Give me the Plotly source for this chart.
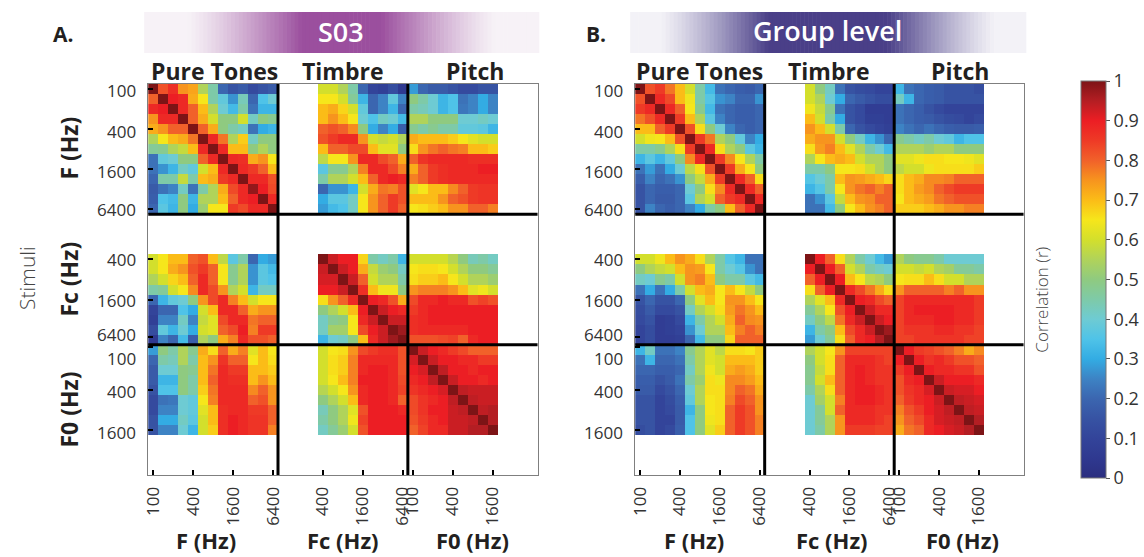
import plotly.graph_objects as go

# ---------------- data (correlation r) ----------------
# Panel A: S03 ; blocks: PT = pure tones F (13), FC = timbre Fc (9), F0 = pitch F0 (9)
A_PT_PT = [
    [1.00, 0.82, 0.87, 0.75, 0.73, 0.55, 0.45, 0.20, 0.15, 0.17, 0.12, 0.15, 0.17],
    [0.80, 1.00, 0.90, 0.88, 0.72, 0.65, 0.45, 0.38, 0.27, 0.43, 0.20, 0.35, 0.40],
    [0.88, 0.90, 1.00, 0.88, 0.80, 0.70, 0.55, 0.40, 0.33, 0.45, 0.22, 0.32, 0.32],
    [0.75, 0.88, 0.88, 1.00, 0.80, 0.72, 0.60, 0.50, 0.50, 0.60, 0.42, 0.50, 0.48],
    [0.72, 0.75, 0.80, 0.80, 1.00, 0.80, 0.72, 0.50, 0.45, 0.42, 0.22, 0.30, 0.32],
    [0.55, 0.65, 0.70, 0.72, 0.78, 1.00, 0.88, 0.78, 0.55, 0.68, 0.42, 0.50, 0.50],
    [0.47, 0.48, 0.55, 0.58, 0.70, 0.88, 1.00, 0.88, 0.70, 0.70, 0.50, 0.55, 0.50],
    [0.22, 0.38, 0.40, 0.50, 0.50, 0.80, 0.88, 1.00, 0.88, 0.87, 0.72, 0.75, 0.65],
    [0.22, 0.27, 0.32, 0.42, 0.38, 0.60, 0.70, 0.88, 1.00, 0.88, 0.85, 0.80, 0.70],
    [0.20, 0.45, 0.45, 0.58, 0.45, 0.70, 0.72, 0.85, 0.88, 1.00, 0.88, 0.88, 0.82],
    [0.17, 0.22, 0.25, 0.42, 0.22, 0.45, 0.55, 0.72, 0.83, 0.88, 0.98, 0.90, 0.83],
    [0.18, 0.35, 0.33, 0.50, 0.32, 0.55, 0.55, 0.70, 0.80, 0.88, 0.90, 1.00, 0.88],
    [0.20, 0.37, 0.32, 0.50, 0.30, 0.52, 0.65, 0.65, 0.85, 0.83, 0.88, 0.88, 1.00],
]
A_PT_FC = [
    [0.60, 0.60, 0.55, 0.45, 0.20, 0.10, 0.08, 0.13, 0.05],
    [0.65, 0.65, 0.60, 0.47, 0.32, 0.20, 0.25, 0.38, 0.25],
    [0.70, 0.72, 0.67, 0.60, 0.38, 0.20, 0.25, 0.32, 0.20],
    [0.70, 0.75, 0.70, 0.65, 0.40, 0.35, 0.42, 0.40, 0.33],
    [0.80, 0.82, 0.80, 0.76, 0.50, 0.30, 0.25, 0.30, 0.18],
    [0.82, 0.85, 0.88, 0.88, 0.75, 0.60, 0.58, 0.60, 0.55],
    [0.70, 0.80, 0.80, 0.83, 0.83, 0.70, 0.62, 0.62, 0.50],
    [0.57, 0.65, 0.65, 0.75, 0.88, 0.88, 0.83, 0.80, 0.72],
    [0.37, 0.48, 0.48, 0.55, 0.77, 0.88, 0.88, 0.83, 0.77],
    [0.45, 0.55, 0.55, 0.60, 0.70, 0.80, 0.88, 0.90, 0.88],
    [0.20, 0.27, 0.27, 0.32, 0.60, 0.72, 0.78, 0.77, 0.82],
    [0.30, 0.37, 0.37, 0.42, 0.65, 0.75, 0.80, 0.85, 0.82],
    [0.28, 0.33, 0.35, 0.42, 0.65, 0.75, 0.80, 0.85, 0.80],
]
A_PT_F0 = [
    [0.28, 0.20, 0.17, 0.17, 0.15, 0.12, 0.12, 0.15, 0.15],
    [0.50, 0.45, 0.40, 0.32, 0.35, 0.22, 0.25, 0.30, 0.25],
    [0.45, 0.43, 0.40, 0.32, 0.35, 0.23, 0.25, 0.30, 0.25],
    [0.55, 0.55, 0.50, 0.50, 0.50, 0.40, 0.40, 0.42, 0.40],
    [0.48, 0.45, 0.48, 0.45, 0.45, 0.38, 0.38, 0.37, 0.32],
    [0.72, 0.70, 0.70, 0.70, 0.68, 0.65, 0.62, 0.60, 0.60],
    [0.66, 0.75, 0.78, 0.80, 0.78, 0.77, 0.70, 0.70, 0.68],
    [0.80, 0.86, 0.88, 0.88, 0.88, 0.88, 0.87, 0.87, 0.87],
    [0.72, 0.80, 0.85, 0.87, 0.88, 0.88, 0.88, 0.90, 0.90],
    [0.77, 0.80, 0.85, 0.87, 0.88, 0.88, 0.88, 0.88, 0.88],
    [0.62, 0.65, 0.70, 0.70, 0.76, 0.80, 0.85, 0.86, 0.86],
    [0.70, 0.70, 0.70, 0.75, 0.80, 0.82, 0.85, 0.86, 0.86],
    [0.65, 0.66, 0.68, 0.70, 0.75, 0.75, 0.80, 0.80, 0.77],
]
A_FC_FC = [
    [1.00, 0.93, 0.90, 0.90, 0.67, 0.45, 0.42, 0.45, 0.32],
    [0.93, 1.00, 0.93, 0.90, 0.72, 0.58, 0.52, 0.50, 0.42],
    [0.92, 0.92, 1.00, 0.93, 0.80, 0.60, 0.55, 0.55, 0.45],
    [0.90, 0.90, 0.93, 1.00, 0.87, 0.70, 0.64, 0.64, 0.50],
    [0.66, 0.75, 0.80, 0.88, 1.00, 0.90, 0.88, 0.82, 0.72],
    [0.50, 0.55, 0.60, 0.70, 0.90, 1.00, 0.93, 0.90, 0.88],
    [0.42, 0.48, 0.50, 0.65, 0.88, 0.93, 1.00, 0.93, 0.93],
    [0.42, 0.53, 0.53, 0.65, 0.83, 0.90, 0.93, 1.00, 0.97],
    [0.32, 0.40, 0.42, 0.50, 0.70, 0.88, 0.93, 0.97, 1.00],
]
A_FC_F0 = [
    [0.60, 0.60, 0.60, 0.60, 0.56, 0.50, 0.43, 0.45, 0.42],
    [0.65, 0.66, 0.66, 0.65, 0.60, 0.55, 0.50, 0.50, 0.47],
    [0.66, 0.68, 0.68, 0.70, 0.65, 0.60, 0.55, 0.55, 0.52],
    [0.75, 0.77, 0.77, 0.77, 0.75, 0.70, 0.62, 0.64, 0.60],
    [0.83, 0.88, 0.88, 0.90, 0.88, 0.88, 0.82, 0.84, 0.82],
    [0.85, 0.88, 0.90, 0.90, 0.90, 0.90, 0.90, 0.90, 0.90],
    [0.87, 0.88, 0.90, 0.90, 0.90, 0.90, 0.90, 0.90, 0.90],
    [0.87, 0.88, 0.88, 0.88, 0.88, 0.88, 0.90, 0.90, 0.90],
    [0.82, 0.82, 0.82, 0.83, 0.84, 0.80, 0.88, 0.90, 0.90],
]
A_F0_F0 = [
    [1.00, 0.93, 0.90, 0.88, 0.85, 0.83, 0.80, 0.80, 0.80],
    [0.92, 1.00, 0.93, 0.90, 0.90, 0.88, 0.88, 0.85, 0.85],
    [0.90, 0.92, 1.00, 0.94, 0.90, 0.90, 0.88, 0.90, 0.90],
    [0.88, 0.90, 0.94, 1.00, 0.93, 0.90, 0.90, 0.88, 0.90],
    [0.86, 0.88, 0.90, 0.92, 1.00, 0.94, 0.93, 0.93, 0.93],
    [0.83, 0.86, 0.88, 0.90, 0.94, 1.00, 0.94, 0.93, 0.93],
    [0.83, 0.86, 0.90, 0.90, 0.93, 0.94, 1.00, 0.94, 0.95],
    [0.82, 0.85, 0.88, 0.90, 0.93, 0.93, 0.94, 1.00, 0.95],
    [0.80, 0.84, 0.88, 0.88, 0.93, 0.93, 0.95, 0.95, 1.00],
]

# Panel B: group level
B_PT_PT = [
    [1.00, 0.82, 0.85, 0.78, 0.70, 0.60, 0.45, 0.33, 0.22, 0.20, 0.18, 0.17, 0.20],
    [0.82, 1.00, 0.88, 0.83, 0.70, 0.64, 0.45, 0.36, 0.27, 0.25, 0.20, 0.20, 0.27],
    [0.85, 0.88, 1.00, 0.88, 0.80, 0.65, 0.48, 0.33, 0.22, 0.20, 0.18, 0.18, 0.20],
    [0.78, 0.82, 0.88, 1.00, 0.85, 0.70, 0.55, 0.37, 0.25, 0.20, 0.18, 0.18, 0.20],
    [0.70, 0.70, 0.80, 0.85, 1.00, 0.82, 0.66, 0.50, 0.40, 0.25, 0.20, 0.18, 0.20],
    [0.60, 0.64, 0.65, 0.70, 0.82, 1.00, 0.85, 0.78, 0.55, 0.50, 0.38, 0.25, 0.30],
    [0.45, 0.45, 0.48, 0.55, 0.66, 0.85, 1.00, 0.88, 0.66, 0.55, 0.50, 0.37, 0.32],
    [0.32, 0.37, 0.32, 0.38, 0.50, 0.76, 0.88, 1.00, 0.85, 0.76, 0.65, 0.55, 0.45],
    [0.22, 0.28, 0.22, 0.30, 0.40, 0.57, 0.66, 0.82, 1.00, 0.85, 0.72, 0.65, 0.50],
    [0.18, 0.25, 0.20, 0.22, 0.27, 0.50, 0.58, 0.72, 0.85, 1.00, 0.88, 0.80, 0.66],
    [0.15, 0.20, 0.18, 0.18, 0.20, 0.40, 0.50, 0.66, 0.76, 0.88, 1.00, 0.88, 0.80],
    [0.15, 0.20, 0.17, 0.17, 0.20, 0.37, 0.55, 0.60, 0.80, 0.85, 0.88, 1.00, 0.88],
    [0.15, 0.25, 0.20, 0.18, 0.20, 0.25, 0.30, 0.45, 0.50, 0.70, 0.80, 0.88, 1.00],
]
B_PT_FC = [
    [0.60, 0.50, 0.42, 0.22, 0.15, 0.13, 0.12, 0.10, 0.10],
    [0.60, 0.55, 0.40, 0.30, 0.20, 0.17, 0.15, 0.13, 0.13],
    [0.64, 0.58, 0.48, 0.22, 0.15, 0.12, 0.07, 0.07, 0.07],
    [0.70, 0.60, 0.45, 0.30, 0.15, 0.12, 0.08, 0.08, 0.07],
    [0.75, 0.70, 0.60, 0.45, 0.20, 0.15, 0.12, 0.10, 0.08],
    [0.72, 0.75, 0.75, 0.60, 0.50, 0.42, 0.32, 0.27, 0.20],
    [0.66, 0.74, 0.77, 0.70, 0.62, 0.55, 0.45, 0.40, 0.33],
    [0.55, 0.65, 0.70, 0.72, 0.70, 0.60, 0.55, 0.55, 0.50],
    [0.45, 0.45, 0.50, 0.65, 0.65, 0.66, 0.60, 0.55, 0.50],
    [0.36, 0.40, 0.45, 0.70, 0.75, 0.74, 0.72, 0.70, 0.67],
    [0.32, 0.36, 0.45, 0.65, 0.75, 0.78, 0.80, 0.77, 0.80],
    [0.22, 0.27, 0.37, 0.58, 0.70, 0.75, 0.76, 0.80, 0.80],
    [0.22, 0.22, 0.33, 0.50, 0.65, 0.70, 0.75, 0.77, 0.80],
]
B_PT_F0 = [
    [0.32, 0.22, 0.20, 0.18, 0.17, 0.15, 0.15, 0.15, 0.13],
    [0.42, 0.32, 0.20, 0.18, 0.17, 0.15, 0.15, 0.15, 0.15],
    [0.22, 0.20, 0.18, 0.15, 0.12, 0.10, 0.10, 0.10, 0.10],
    [0.22, 0.20, 0.18, 0.17, 0.15, 0.13, 0.12, 0.10, 0.12],
    [0.25, 0.22, 0.20, 0.22, 0.20, 0.18, 0.17, 0.17, 0.18],
    [0.48, 0.45, 0.42, 0.45, 0.40, 0.38, 0.32, 0.35, 0.35],
    [0.55, 0.55, 0.55, 0.52, 0.55, 0.55, 0.50, 0.50, 0.50],
    [0.62, 0.62, 0.64, 0.66, 0.66, 0.65, 0.65, 0.64, 0.62],
    [0.57, 0.60, 0.60, 0.64, 0.66, 0.66, 0.66, 0.66, 0.68],
    [0.66, 0.70, 0.72, 0.76, 0.76, 0.77, 0.80, 0.80, 0.80],
    [0.66, 0.70, 0.74, 0.76, 0.80, 0.83, 0.85, 0.85, 0.85],
    [0.65, 0.70, 0.72, 0.74, 0.78, 0.80, 0.82, 0.82, 0.82],
    [0.68, 0.68, 0.68, 0.70, 0.72, 0.75, 0.75, 0.77, 0.77],
]
B_FC_FC = [
    [1.00, 0.90, 0.80, 0.66, 0.55, 0.45, 0.40, 0.33, 0.28],
    [0.90, 1.00, 0.90, 0.80, 0.60, 0.55, 0.45, 0.42, 0.40],
    [0.80, 0.90, 1.00, 0.90, 0.70, 0.65, 0.57, 0.55, 0.50],
    [0.66, 0.80, 0.90, 1.00, 0.88, 0.83, 0.78, 0.72, 0.66],
    [0.55, 0.62, 0.70, 0.88, 1.00, 0.90, 0.88, 0.83, 0.80],
    [0.47, 0.55, 0.65, 0.82, 0.90, 1.00, 0.93, 0.88, 0.88],
    [0.42, 0.50, 0.57, 0.78, 0.88, 0.93, 1.00, 0.93, 0.90],
    [0.32, 0.45, 0.50, 0.70, 0.83, 0.88, 0.93, 1.00, 0.97],
    [0.28, 0.40, 0.47, 0.66, 0.80, 0.88, 0.90, 0.95, 1.00],
]
B_FC_F0 = [
    [0.55, 0.50, 0.48, 0.48, 0.45, 0.40, 0.40, 0.40, 0.40],
    [0.60, 0.60, 0.58, 0.60, 0.55, 0.53, 0.47, 0.47, 0.45],
    [0.65, 0.66, 0.66, 0.70, 0.66, 0.60, 0.60, 0.55, 0.55],
    [0.75, 0.80, 0.80, 0.80, 0.80, 0.77, 0.80, 0.75, 0.75],
    [0.84, 0.88, 0.88, 0.88, 0.88, 0.88, 0.88, 0.88, 0.85],
    [0.84, 0.88, 0.90, 0.90, 0.90, 0.90, 0.88, 0.88, 0.85],
    [0.84, 0.88, 0.88, 0.88, 0.90, 0.90, 0.88, 0.88, 0.85],
    [0.84, 0.86, 0.86, 0.86, 0.88, 0.88, 0.86, 0.86, 0.84],
    [0.84, 0.84, 0.86, 0.86, 0.86, 0.86, 0.86, 0.84, 0.84],
]
B_F0_F0 = [
    [1.00, 0.90, 0.85, 0.84, 0.82, 0.80, 0.77, 0.72, 0.76],
    [0.90, 1.00, 0.90, 0.86, 0.88, 0.85, 0.82, 0.82, 0.80],
    [0.85, 0.90, 1.00, 0.90, 0.88, 0.88, 0.86, 0.86, 0.82],
    [0.82, 0.88, 0.90, 1.00, 0.93, 0.90, 0.90, 0.90, 0.88],
    [0.82, 0.86, 0.88, 0.92, 1.00, 0.93, 0.92, 0.92, 0.90],
    [0.80, 0.85, 0.88, 0.90, 0.93, 1.00, 0.94, 0.93, 0.92],
    [0.77, 0.82, 0.85, 0.90, 0.92, 0.94, 1.00, 0.94, 0.93],
    [0.75, 0.80, 0.83, 0.88, 0.92, 0.93, 0.94, 1.00, 0.95],
    [0.72, 0.78, 0.80, 0.88, 0.90, 0.92, 0.93, 0.95, 1.00],
]

X_TICK_INDEX = [0, 4, 8, 12, 17, 21, 25, 26, 30, 34]
Y_TICK_INDEX = [0, 4, 8, 12, 17, 21, 24.75, 25.75, 30, 34]
Y_LABEL_POS = [0.1, 4.2, 8.2, 12.0, 17.0, 21.1, 24.45, 26.85, 30.2, 34.3]
TICK_LABELS = ["100", "400", "1600", "6400", "400", "1600", "6400", "100", "400", "1600"]
SECTION_TITLES = ["Pure Tones", "Timbre", "Pitch"]
AXIS_TITLES = ["F (Hz)", "Fc (Hz)", "F0 (Hz)"]
PANEL_LETTERS = ["A.", "B."]
PANEL_BANNERS = ["S03", "Group level"]
CB_TICKS = [0, 0.1, 0.2, 0.3, 0.4, 0.5, 0.6, 0.7, 0.8, 0.9, 1]
CB_LABELS = ["0", "0.1", "0.2", "0.3", "0.4", "0.5", "0.6", "0.7", "0.8", "0.9", "1"]

# ---------------- assembly ----------------
def transpose(b):
    return [list(r) for r in zip(*b)]

def assemble(pp, pc, pf, cc, cf, ff):
    rows = []
    for i in range(13):
        rows.append(list(pp[i]) + list(pc[i]) + list(pf[i]))
    pcT, pfT, cfT = transpose(pc), transpose(pf), transpose(cf)
    for i in range(9):
        rows.append(pcT[i] + list(cc[i]) + list(cf[i]))
    for i in range(9):
        rows.append(pfT[i] + cfT[i] + list(ff[i]))
    return rows

GRID_INDEX = list(range(13)) + [17 + j for j in range(9)] + [26 + k for k in range(9)]
N = 39

def to_grid(m):
    z = [[None] * N for _ in range(N)]
    for a, gi in enumerate(GRID_INDEX):
        for b, gj in enumerate(GRID_INDEX):
            z[gi][gj] = m[a][b]
    return z

ZA = to_grid(assemble(A_PT_PT, A_PT_FC, A_PT_F0, A_FC_FC, A_FC_F0, A_F0_F0))
ZB = to_grid(assemble(B_PT_PT, B_PT_FC, B_PT_F0, B_FC_FC, B_FC_F0, B_F0_F0))

W, H = 1144, 557
def px(x):
    return x / W
def py(y):
    return 1 - y / H

COLORSCALE = [
    [0.00, "#2b2e7f"], [0.05, "#2f3990"], [0.10, "#33449a"], [0.15, "#3753a3"],
    [0.20, "#3b66b0"], [0.25, "#3d83c4"], [0.30, "#33ace3"], [0.35, "#4fc3e8"],
    [0.40, "#6ecbd3"], [0.45, "#7ecaa8"], [0.50, "#8fca80"], [0.55, "#b0d35a"],
    [0.60, "#d3df2c"], [0.65, "#f6e61b"], [0.70, "#fbbc17"], [0.75, "#f7941e"],
    [0.80, "#f1612a"], [0.85, "#ee3a26"], [0.90, "#ec1e24"], [0.95, "#b41e23"],
    [1.00, "#7d1416"],
]

TICKFONT = dict(family="Open Sans", size=17, color="#333333")
BOLD = dict(family="Open Sans", size=23, color="#231f20", weight="bold")
BOLD_BOTTOM = dict(family="Open Sans", size=22, color="#231f20", weight="bold")

fig = go.Figure()
idx = list(range(N))
fig.add_trace(go.Heatmap(z=ZA, x=idx, y=idx, coloraxis="coloraxis", xaxis="x", yaxis="y",
                         hoverongaps=False))
fig.add_trace(go.Heatmap(z=ZB, x=idx, y=idx, coloraxis="coloraxis", xaxis="x2", yaxis="y2",
                         hoverongaps=False))

panels = [
    dict(x0=142, x1=534, sfx=""),
    dict(x0=632, x1=1023, sfx="2"),
]
Y0, Y1 = 84, 475

def xaxis_cfg(p):
    return dict(domain=[px(p["x0"]), px(p["x1"])], range=[-0.5, N - 0.5],
                tickvals=X_TICK_INDEX, ticktext=TICK_LABELS, tickangle=-90,
                ticks="inside", ticklen=5, tickwidth=2, tickcolor="black",
                showline=True, linecolor="#7f7f7f", linewidth=1, mirror=True,
                showgrid=False, zeroline=False, tickfont=TICKFONT,
                ticklabelstandoff=4, anchor="y" + p["sfx"], fixedrange=True)

def yaxis_cfg(p):
    # tick marks from the axis; the labels are placed as annotations (see below)
    return dict(domain=[py(Y1), py(Y0)], range=[N - 0.5, -0.5],
                tickvals=Y_TICK_INDEX, showticklabels=False,
                ticks="inside", ticklen=5, tickwidth=2, tickcolor="black",
                showline=True, linecolor="#7f7f7f", linewidth=1, mirror=True,
                showgrid=False, zeroline=False,
                anchor="x" + p["sfx"], fixedrange=True)

fig.update_layout(
    xaxis=xaxis_cfg(panels[0]), yaxis=yaxis_cfg(panels[0]),
    xaxis2=xaxis_cfg(panels[1]), yaxis2=yaxis_cfg(panels[1]),
)

shapes = []
# section dividers
for p in panels:
    xr, yr = "x" + p["sfx"], "y" + p["sfx"]
    for b in (12.5, 25.5):
        shapes.append(dict(type="line", xref=xr, yref=yr, x0=b, x1=b, y0=-0.5, y1=N - 0.5,
                           line=dict(color="black", width=3)))
        shapes.append(dict(type="line", xref=xr, yref=yr, x0=-0.5, x1=N - 0.5, y0=b, y1=b,
                           line=dict(color="black", width=3)))

# gradient banners
def mix(c1, c2, w):
    return "rgb(%d,%d,%d)" % tuple(round(a + (b - a) * w) for a, b in zip(c1, c2))

banners = [
    dict(x0=138, x1=535, edge=(247, 242, 247), center=(155, 79, 158), plateau=0.2, fade=0.78),
    dict(x0=627, x1=1025, edge=(243, 242, 247), center=(74, 63, 136), plateau=0.3, fade=0.85),
]
NSTRIP = 100
for bn in banners:
    width = (bn["x1"] - bn["x0"]) / NSTRIP
    cx = (bn["x0"] + bn["x1"]) / 2
    half = (bn["x1"] - bn["x0"]) / 2
    for i in range(NSTRIP):
        xa = bn["x0"] + i * width
        t = abs(xa + width / 2 - cx) / half
        w = min(1.0, max(0.0, (bn["fade"] - t) / (bn["fade"] - bn["plateau"]))) ** 1.2
        shapes.append(dict(type="rect", xref="paper", yref="paper",
                           x0=px(xa), x1=px(xa + width + 0.6), y0=py(53), y1=py(12),
                           line=dict(width=0), fillcolor=mix(bn["edge"], bn["center"], w),
                           layer="below"))
fig.update_layout(shapes=shapes)

ann = []
def add_text(text, x, y, font, angle=0):
    ann.append(dict(text=text, x=px(x), y=py(y), xref="paper", yref="paper",
                    xanchor="center", yanchor="middle", showarrow=False,
                    font=font, textangle=angle))

# y tick labels (positioned on the data scale of each y axis)
for p, right_edge in zip(panels, (132, 622)):
    for pos, lab in zip(Y_LABEL_POS, TICK_LABELS):
        ann.append(dict(text=lab, x=px(right_edge), y=pos, xref="paper", yref="y" + p["sfx"],
                        xanchor="right", yanchor="middle", showarrow=False, font=TICKFONT))

add_text(PANEL_LETTERS[0], 56, 34, dict(family="Open Sans", size=21, color="#231f20", weight="bold"))
add_text(PANEL_LETTERS[1], 593, 34, dict(family="Open Sans", size=21, color="#231f20", weight="bold"))
add_text(PANEL_BANNERS[0], 336, 32, dict(family="Open Sans", size=27, color="white", weight=600))
add_text(PANEL_BANNERS[1], 826, 31, dict(family="Open Sans", size=27, color="white", weight=600))

top_x = [[209, 338, 471], [697, 827, 959]]
bot_x = [[200, 338, 468], [691, 830, 961]]
for pi in range(2):
    for k in range(3):
        add_text(SECTION_TITLES[k], top_x[pi][k], 71, BOLD)
        add_text(AXIS_TITLES[k], bot_x[pi][k], 540, BOLD_BOTTOM)
for k, yc in enumerate([148, 279, 410]):
    add_text(AXIS_TITLES[k], 62, yc, BOLD, angle=-90)
add_text("Stimuli", 20, 278, dict(family="Open Sans", size=21, color="#444444", weight=300), angle=-90)
add_text("Correlation (r)", 1040, 300, dict(family="Open Sans", size=17, color="#444444", weight=300), angle=-90)

fig.update_layout(
    annotations=ann,
    width=W, height=H,
    margin=dict(l=0, r=0, t=0, b=0),
    paper_bgcolor="white", plot_bgcolor="white",
    coloraxis=dict(
        colorscale=COLORSCALE, cmin=0, cmax=1,
        colorbar=dict(
            x=px(1081), xanchor="left", xpad=0, ypad=0,
            y=py(279.5), yanchor="middle",
            thickness=25, thicknessmode="pixels",
            len=397, lenmode="pixels",
            outlinecolor="#777777", outlinewidth=1,
            ticks="outside", ticklen=4, tickwidth=1, tickcolor="#555555",
            tickvals=CB_TICKS, ticktext=CB_LABELS,
            tickfont=dict(family="Open Sans", size=18, color="#333333"),
        ),
    ),
    showlegend=False,
)

fig.write_html("out.html")
